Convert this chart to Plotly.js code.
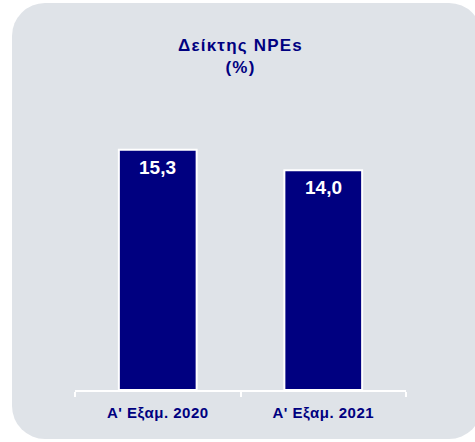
<!DOCTYPE html>
<html>
<head>
<meta charset="utf-8">
<script src="https://cdn.plot.ly/plotly-3.0.1.min.js"></script>
<style>
  html, body { margin: 0; padding: 0; background: #ffffff; }
  #bg { position: absolute; left: 12px; top: 3px; width: 470px; height: 436px;
        border-radius: 33px; background: #dfe3e8; }
  #chart { position: absolute; left: 0; top: 0; width: 475px; height: 442px; }
  #chart .gtitle { letter-spacing: 1.2px; }
  #chart .xtick text { letter-spacing: 0.5px; }
</style>
</head>
<body>
<div id="bg"></div>
<div id="chart"></div>
<script>
const categories = ["Α' Εξαμ. 2020", "Α' Εξαμ. 2021"];
const npeRatio = [15.3, 14.0];
const chartTitle = "Δείκτης NPEs<br>(%)";

const navy = "#000080";
const fmt = v => v.toFixed(1).replace('.', ',');

const trace = {
  type: 'bar',
  x: categories,
  y: npeRatio,
  width: 0.47,
  marker: { color: navy, line: { color: '#ffffff', width: 2 } },
  hoverinfo: 'skip'
};

const annotations = categories.map((c, i) => ({
  x: c, y: npeRatio[i], xref: 'x', yref: 'y',
  text: '<b>' + fmt(npeRatio[i]) + '</b>',
  showarrow: false, yanchor: 'top', yshift: -5,
  font: { family: 'Liberation Sans, Arial, sans-serif', size: 19, color: '#ffffff' }
}));

const layout = {
  width: 475, height: 442,
  margin: { l: 75, r: 69, t: 60, b: 52, pad: 0 },
  paper_bgcolor: 'rgba(0,0,0,0)',
  plot_bgcolor: 'rgba(0,0,0,0)',
  showlegend: false,
  title: {
    text: '<b>' + chartTitle + '</b>',
    x: 0.5, xref: 'paper',
    y: 1 - 51 / 442, yref: 'container', yanchor: 'top',
    font: { family: 'Liberation Sans, Arial, sans-serif', size: 17, color: navy }
  },
  xaxis: {
    type: 'category',
    showline: true, linecolor: '#ffffff', linewidth: 2,
    ticks: 'outside', tickson: 'boundaries', ticklen: 5, tickwidth: 2, tickcolor: '#ffffff',
    ticklabelstandoff: 8,
    showgrid: false, zeroline: false,
    tickfont: { family: 'Liberation Sans, Arial, sans-serif', size: 15, color: navy, weight: 'bold' }
  },
  yaxis: {
    range: [0, 21.02], visible: false, showgrid: false, zeroline: false, fixedrange: true
  },
  annotations: annotations
};

Plotly.newPlot('chart', [trace], layout, { displayModeBar: false, staticPlot: true });
</script>
</body>
</html>
